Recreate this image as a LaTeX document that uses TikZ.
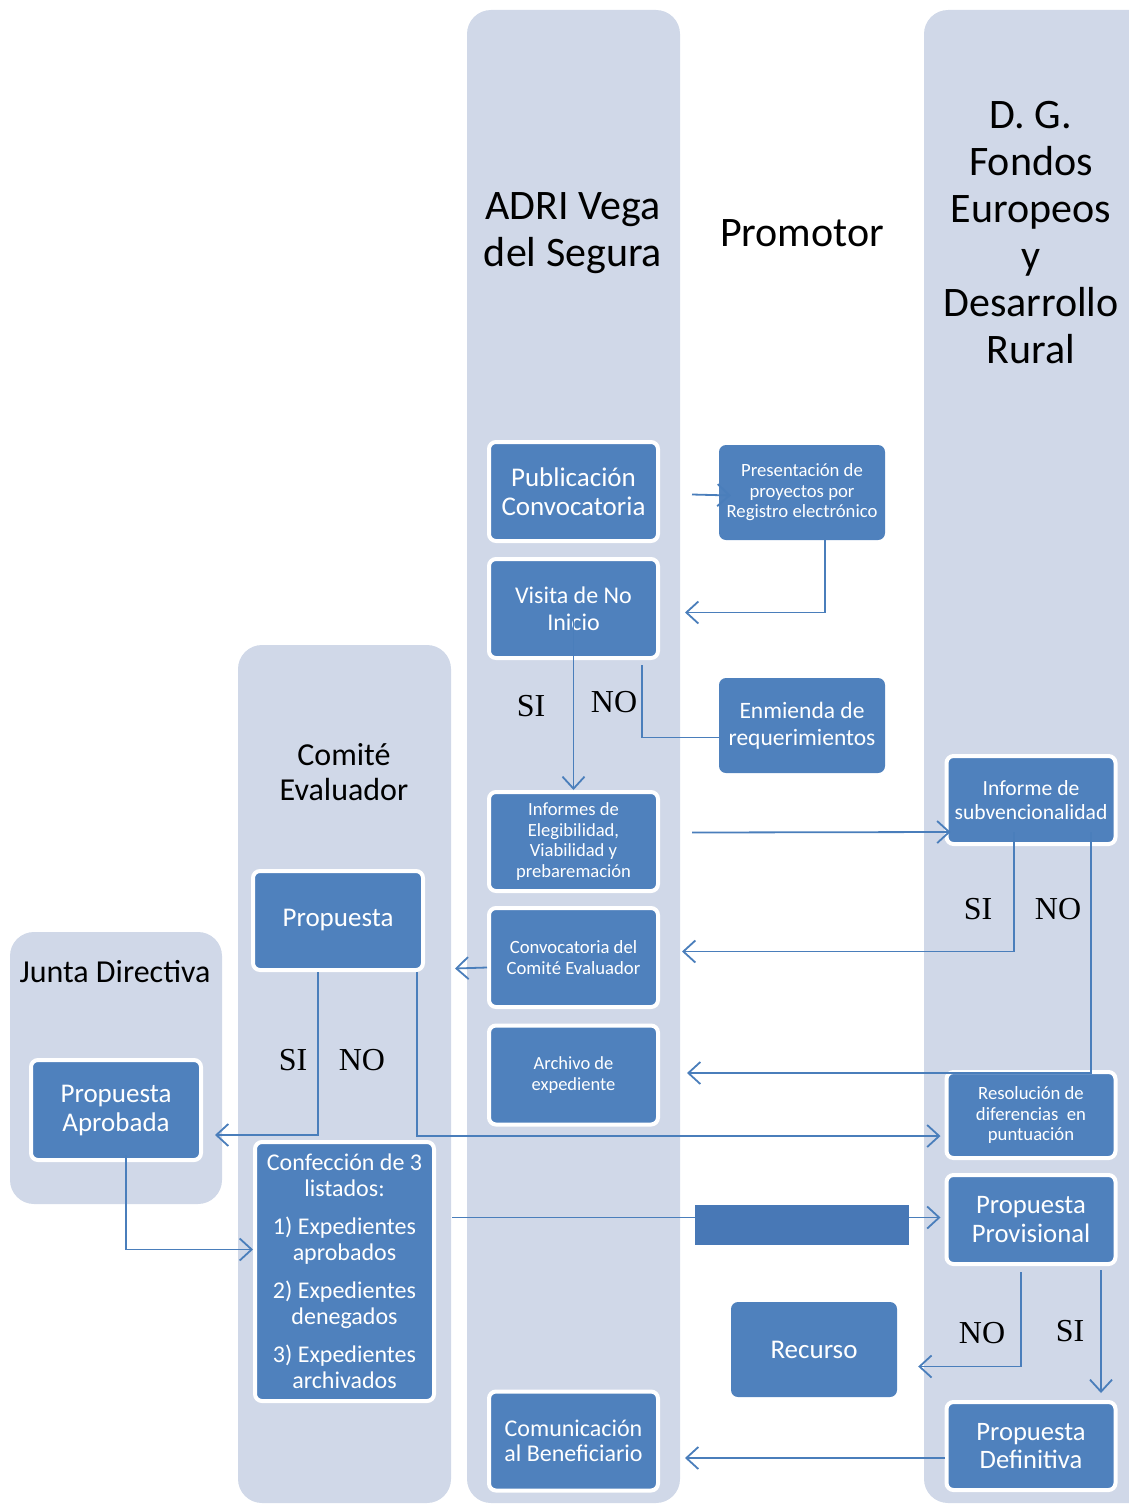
\documentclass[tikz,border=0pt]{standalone}
\usepackage{fontspec}
\setmainfont{Carlito}
\newfontfamily\sinofont{Liberation Serif}
\usetikzlibrary{arrows.meta}

\definecolor{lanebg}{HTML}{D0D8E8}
\definecolor{boxblue}{HTML}{4F81BD}
\definecolor{linkblue}{HTML}{4A7EBB}
\definecolor{barblue}{HTML}{4878B6}

\tikzset{
  lane/.style={fill=lanebg, rounded corners=24pt},
  box/.style={fill=boxblue, draw=white, line width=4pt, rounded corners=7pt,
    text=white, align=center, minimum width=169pt, minimum height=99pt, inner sep=2pt},
  plainbox/.style={fill=boxblue, rounded corners=7pt, text=white, align=center,
    minimum width=166pt, minimum height=95pt, inner sep=2pt},
  head/.style={align=center, text=black},
  link/.style={draw=linkblue, line width=1.8pt},
  flow/.style={link, -{Straight Barb[length=12pt,width=22pt,line width=1.8pt]}},
  sino/.style={font=\sinofont\fontsize{32}{34}\selectfont},
}

\begin{document}
\begin{tikzpicture}[x=1pt,y=-1pt]
  \useasboundingbox (0,0) rectangle (1129,1504);
  \clip (0,0) rectangle (1129,1504);

  % lanes
  \fill[lane] (467,10) rectangle (680,1503);
  \fill[lane] (924,10) rectangle (1160,1503);
  \fill[lane] (238,645) rectangle (451,1503);
  \fill[lane] (10,932) rectangle (222,1204);

  % lane titles
  \node[head, font=\fontsize{42}{47}\selectfont] (adri) at (573,233) {ADRI Vega\\del Segura};
  \node[head, font=\fontsize{42}{47}\selectfont] (promotor) at (802,233) {Promotor};
  \node[head, font=\fontsize{42}{47}\selectfont] (dg) at (1031,233)
    {D. G.\\Fondos\\Europeos\\y\\Desarrollo\\Rural};
  \node[head, font=\fontsize{32}{35}\selectfont] (comite) at (344,772) {Comité\\Evaluador};
  \node[head, font=\fontsize{32}{35}\selectfont] (junta) at (115,972) {Junta Directiva};

  % ADRI
  \node[box, font=\fontsize{27}{29}\selectfont] (pub) at (573.5,491.5) {Publicación\\Convocatoria};
  \node[box, font=\fontsize{24}{27}\selectfont] (visita) at (573.5,608.5) {Visita de No\\Inicio};
  \node[box, font=\fontsize{18.6}{20.5}\selectfont] (inf) at (573.5,841.5)
    {Informes de\\Elegibilidad,\\Viabilidad y\\prebaremación};
  \node[box, font=\fontsize{18.7}{21}\selectfont] (conv) at (573.5,957.5) {Convocatoria del\\Comité Evaluador};
  \node[box, font=\fontsize{18.5}{21}\selectfont] (archivo) at (573.5,1075) {Archivo de\\expediente};
  \node[box, font=\fontsize{24}{25}\selectfont] (comun) at (573.5,1441) {Comunicación\\al Beneficiario};

  % Promotor
  \node[plainbox, font=\fontsize{18.7}{20.5}\selectfont] (pres) at (802,492.5)
    {Presentación de\\proyectos por\\Registro electrónico};
  \node[plainbox, font=\fontsize{23.5}{27}\selectfont] (enm) at (802,725.5) {Enmienda de\\requerimientos};
  \node[plainbox, font=\fontsize{27}{29}\selectfont] (recurso) at (814,1349.5) {Recurso};

  % D. G.
  \node[box, minimum height=88pt, font=\fontsize{21.6}{24}\selectfont] (subv) at (1031,800)
    {Informe de\\subvencionalidad};
  \node[box, minimum height=86pt, font=\fontsize{18.7}{20.5}\selectfont] (resol) at (1031,1115)
    {Resolución de\\diferencias\ \ en\\puntuación};
  \node[box, minimum height=89pt, font=\fontsize{26.7}{29}\selectfont] (prov) at (1031,1219.5)
    {Propuesta\\Provisional};
  \node[box, minimum height=88pt, font=\fontsize{26.6}{28}\selectfont] (defin) at (1031,1446)
    {Propuesta\\Definitiva};

  % Comite y Junta
  \node[box, minimum width=170pt, font=\fontsize{27}{29}\selectfont] (prop) at (338,920.5) {Propuesta};
  \node[box, minimum width=179pt, minimum height=259pt, font=\fontsize{24}{26}\selectfont] (confec) at (344.5,1271.5)
    {Confección de 3\\listados:\\[12pt]1) Expedientes\\aprobados\\[12pt]2) Expedientes\\denegados\\[12pt]3) Expedientes\\archivados};
  \node[box, minimum width=170pt, minimum height=100pt, font=\fontsize{27}{29}\selectfont] (aprob) at (116,1110)
    {Propuesta\\Aprobada};

  % connectors
  \draw[flow] ([xshift=32pt,yshift=-3pt]pub.east) -- ([xshift=12pt,yshift=-3pt]pres.west);
  \draw[flow] ([xshift=23pt]pres.south) |- ([xshift=25pt,yshift=-4pt]visita.east);
  \draw[link] ([yshift=-12pt]enm.west) -| ([xshift=-18pt,yshift=-5pt]visita.south east);
  \draw[flow] ([yshift=45pt]visita.south) -- (inf.north);
  \draw[flow] ([xshift=32pt,yshift=9pt]inf.east) -- ([xshift=6pt,yshift=-32pt]subv.west);
  \draw[flow] ([xshift=-17pt,yshift=14pt]subv.south) |- ([xshift=22pt,yshift=6pt]conv.east);
  \draw[flow] ([xshift=60pt,yshift=14pt]subv.south) |- ([xshift=27pt,yshift=2pt]archivo.east);
  \draw[flow] ([yshift=-10pt]conv.west) -- ([xshift=30pt,yshift=-48pt]prop.east);
  \draw[flow] ([xshift=-20pt]prop.south) |- ([xshift=12pt,yshift=-25pt]aprob.east);
  \draw[flow] ([xshift=79pt]prop.south) |- ([xshift=-4pt,yshift=-21pt]resol.west);
  \draw[flow] ([xshift=10pt,yshift=7pt]aprob.south) |- ([yshift=22pt]confec.west);
  \draw[flow] ([xshift=16pt,yshift=54pt]confec.east) -- ([xshift=-4pt,yshift=2pt]prov.west);
  \draw[flow] ([xshift=-10pt,yshift=-6pt]prov.south) |- ([xshift=21pt,yshift=-17pt]recurso.east);
  \draw[flow] ([xshift=70pt,yshift=-4pt]prov.south) -- ([xshift=70pt,yshift=7pt]defin.north);
  \draw[flow] ([yshift=-12pt]defin.west) -- ([xshift=25pt,yshift=-17pt]comun.east);

  % bar over the line to Propuesta Provisional
  \fill[barblue] (695,1205) rectangle (909,1245);

  % SI / NO
  \node[sino] (si1) at (531,706) {SI};
  \node[sino] (no1) at (614,702) {NO};
  \node[sino] (si2) at (978,909) {SI};
  \node[sino] (no2) at (1058,909) {NO};
  \node[sino] (si3) at (293,1060) {SI};
  \node[sino] (no3) at (362,1060) {NO};
  \node[sino] (no4) at (982,1333) {NO};
  \node[sino] (si4) at (1070,1331) {SI};
\end{tikzpicture}
\end{document}
